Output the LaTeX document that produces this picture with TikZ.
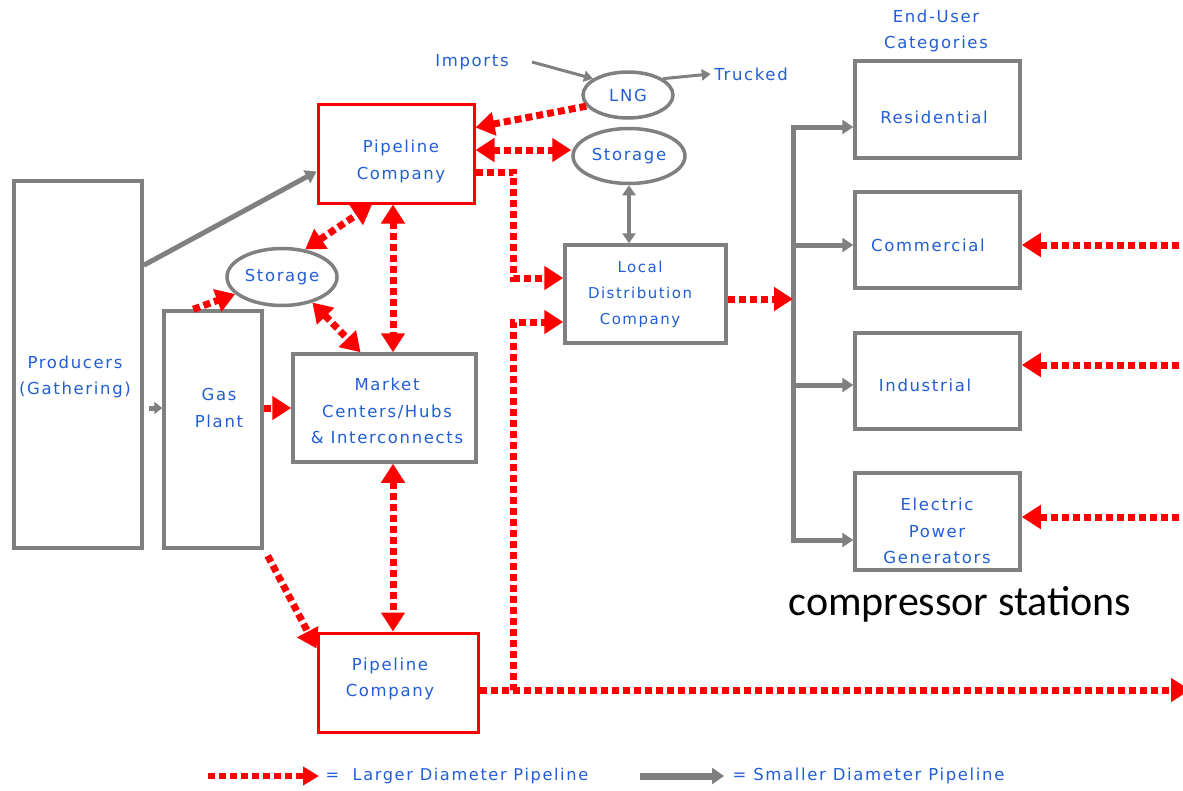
\documentclass[tikz,border=0pt]{standalone}
\usepackage{fontspec}
\setmainfont[LetterSpace=10]{DejaVu Sans}
\newfontfamily\calib{Carlito}
\usetikzlibrary{arrows.meta,shapes.geometric,calc}
\definecolor{txt}{RGB}{34,94,214}
\definecolor{gr}{RGB}{128,128,128}
\definecolor{rd}{RGB}{255,0,0}
\begin{document}
\begin{tikzpicture}[x=1pt,y=-1pt,
 every node/.style={font=\fontsize{16.5}{26.5}\selectfont, text=txt, align=center},
 gbox/.style={draw=gr, line width=3.5pt, rectangle, inner sep=0pt},
 rbox/.style={draw=rd, line width=3pt, rectangle, inner sep=0pt},
 oval/.style={draw=gr, ellipse, line width=3.5pt, inner sep=0pt},
 big/.style={draw=rd, line width=7pt, dash pattern=on 7pt off 4pt, -{Triangle[length=19pt,width=23pt]}},
 bigd/.style={big, {Triangle[length=19pt,width=23pt]}-{Triangle[length=19pt,width=23pt]}},
 thin/.style={draw=gr, line width=5pt, -{Triangle[length=11pt,width=14pt]}},
 fine/.style={draw=gr, line width=3pt, -{Triangle[length=9pt,width=11pt]}},
 ]
\useasboundingbox (0,0) rectangle (1183,790);
\fill[white] (0,0) rectangle (1183,790);
% boxes
\node[gbox, minimum width=128pt, minimum height=367pt] (prod) at (78,364.5) {};
\node (prodt) at (75,377) {Producers\\(Gathering)};
\node[gbox, minimum width=98pt, minimum height=237pt] (gp) at (213,429.5) {};
\node (gpt) at (219,408) {Gas\\Plant};
\node[rbox, minimum width=156pt, minimum height=99pt] (pt) at (396,153.5) {};
\node (ptt) at (401,161.5) {Pipeline\\Company};
\node[gbox, minimum width=183pt, minimum height=108pt] (mk) at (384.5,408) {};
\node (mkt) at (387,411) {Market\\Centers/Hubs\\\& Interconnects};
\node[rbox, minimum width=160pt, minimum height=99pt] (pb) at (398,682.5) {};
\node (pbt) at (390,679) {Pipeline\\Company};
\node[gbox, minimum width=161pt, minimum height=98pt] (ldc) at (645.5,294) {};
\node[font=\fontsize{15}{26}\selectfont] (ldct) at (640,294) {Local\\Distribution\\Company};
\node[gbox, minimum width=165pt, minimum height=97pt] (res) at (937.5,109.5) {};
\node (rest) at (934,117) {Residential};
\node[gbox, minimum width=165pt, minimum height=96pt] (cm) at (937.5,240) {};
\node (cmt) at (928,245) {Commercial};
\node[gbox, minimum width=165pt, minimum height=96pt] (ind) at (937.5,381) {};
\node (indt) at (925,385) {Industrial};
\node[gbox, minimum width=165pt, minimum height=97pt] (el) at (937.5,521.5) {};
\node (elt) at (937,531) {Electric\\Power\\Generators};
\node (eu) at (936,31) {End-User\\Categories};
\node[oval, minimum width=90pt, minimum height=46pt] (lng) at (628,95) {LNG};
\node[oval, minimum width=112pt, minimum height=55pt] (st) at (629,156) {Storage};
\node[oval, minimum width=110pt, minimum height=57pt] (sm) at (282,277) {Storage};
\node (imp) at (472,62) {Imports};
\node (trk) at (751,74) {Trucked};
\node[font=\calib\fontsize{42}{42}\selectfont, text=black] (cs) at (960,604) {compressor stations};
% coordinates
\coordinate (impe) at (532,62);
\coordinate (bt) at (793,127);
\coordinate (bc) at (793,245);
\coordinate (bm) at (793,299);
\coordinate (bi) at (793,385);
\coordinate (bb) at (793,540);
\coordinate (ed1) at (1190,690);
\coordinate (rc) at (1190,245);
\coordinate (ri) at (1190,365);
\coordinate (re) at (1190,517);
% gray connectors
\draw[thin] ($(prod.north east)+(0,86)$) -- ($(pt.west)+(0,18)$);
\draw[thin, -{Triangle[length=8pt,width=12pt]}] ($(prod.east)+(5,43.5)$) -- ($(gp.west)+(0,-21.5)$);
\draw[fine] (impe) -- (lng.155);
\draw[fine] (lng.25) -- (trk.west);
\draw[draw=gr, line width=4pt, {Triangle[length=10pt,width=13pt]}-{Triangle[length=10pt,width=13pt]}] (st.south) -- (st.south |- ldc.north);
\draw[draw=gr, line width=5pt] (bt) -- (bb);
\draw[thin, -{Triangle[length=11pt,width=14pt]}] ([xshift=-2.5pt]bt) -- (bt -| res.west);
\draw[thin, -{Triangle[length=11pt,width=14pt]}] (bc) -- (bc -| cm.west);
\draw[thin, -{Triangle[length=11pt,width=14pt]}] (bi) -- (bi -| ind.west);
\draw[thin, -{Triangle[length=11pt,width=14pt]}] ([xshift=-2.5pt]bb) -- (bb -| el.west);
% red connectors
\draw[big] ($(gp.north west)+(31,0)$) -- (sm.200);
\draw[big] ($(gp.east)+(0,-21.5)$) -- (mk.west);
\draw[big] ($(gp.south east)+(4,6)$) -- ($(pb.west)+(0,-34)$);
\draw[bigd] (sm.50) -- ($(pt.south)+(-24,0)$);
\draw[bigd] (sm.-40) -- ($(mk.north)+(-24,0)$);
\draw[bigd] ($(pt.south)+(-3,0)$) -- ($(mk.north)+(8.5,0)$);
\draw[bigd] ($(mk.south)+(8.5,0)$) -- ($(pb.north)+(-5,0)$);
\draw[big] (lng.195) -- ($(pt.east)+(0,-26)$);
\draw[bigd] ($(pt.east)+(0,-3.5)$) -- ($(st.west)+(0,-6)$);
\draw[big] ($(pt.east)+(0,18.5)$) -- ++(38,0) |- ($(ldc.west)+(0,-16)$);
\draw[big] ($(pb.east)+(0,7.5)$) -- ++(34,0) |- ($(ldc.west)+(0,28)$);
\draw[big] ($(pb.east)+(0,7.5)$) -- (ed1);
\draw[big] ($(ldc.east)+(0,5)$) -- (bm);
\draw[big] (rc) -- (rc -| cm.east);
\draw[big] (ri) -- (ri -| ind.east);
\draw[big] (re) -- (re -| el.east);
% legend
\coordinate (l1) at (208,776);
\coordinate (l2) at (319,776);
\coordinate (l3) at (640,776);
\coordinate (l4) at (724,776);
\draw[big, line width=6pt, -{Triangle[length=16pt,width=18pt]}] (l1) -- (l2);
\node[anchor=west, font=\fontsize{16.2}{20}\selectfont] (lt1) at (322,776) {=\ \ Larger Diameter Pipeline};
\draw[draw=gr, line width=7pt, -{Triangle[length=12pt,width=16pt]}] (l3) -- (l4);
\node[anchor=west] (lt2) at (729,776) {= Smaller Diameter Pipeline};
\end{tikzpicture}
\end{document}
